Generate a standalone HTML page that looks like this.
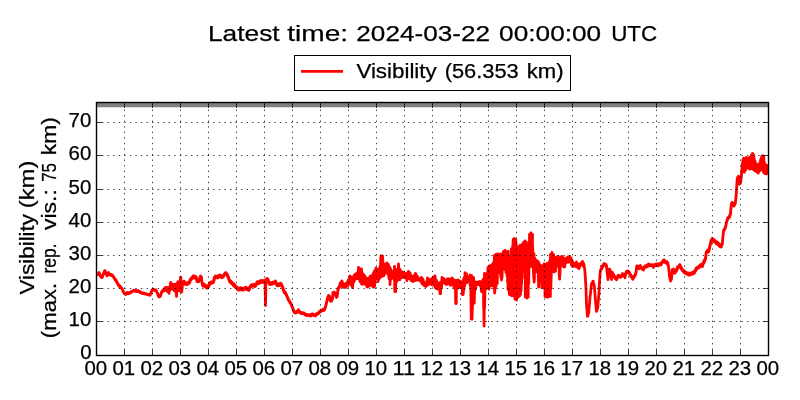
<!DOCTYPE html>
<html lang="en">
<head>
<meta charset="utf-8">
<title>Visibility</title>
<style>
html,body{margin:0;padding:0;background:#fff;}
body{width:800px;height:400px;overflow:hidden;font-family:"Liberation Sans",sans-serif;}
svg{display:block;}
text{font-family:"Liberation Sans",sans-serif;stroke:#000;stroke-width:0.25px;}
</style>
</head>
<body>
<svg width="800" height="400" viewBox="0 0 800 400" style="will-change:transform">
<rect width="800" height="400" fill="#fff"/>
<defs><clipPath id="ax"><rect x="96.5" y="102.5" width="672" height="253"/></clipPath></defs>
<g clip-path="url(#ax)">
<path d="M96.8,274.7 L97.5,274.8 L97.9,273.6 L98.2,273.8 L98.6,272.6 L99.0,272.9 L99.2,272.8 L99.5,274.1 L99.8,274.0 L100.0,275.2 L100.2,275.1 L100.5,276.3 L100.9,276.0 L101.2,277.3 L101.6,276.8 L102.0,277.8 L102.2,276.5 L102.5,276.9 L102.8,275.3 L103.0,275.5 L103.2,274.0 L103.5,274.3 L103.7,272.9 L103.9,273.2 L104.2,272.0 L104.4,272.0 L104.6,270.7 L104.8,271.0 L105.0,270.8 L105.3,272.1 L105.5,271.9 L105.8,273.3 L106.0,273.1 L106.2,274.4 L106.5,274.5 L106.8,275.7 L107.0,275.5 L107.2,275.9 L107.5,274.7 L107.8,274.9 L108.0,273.6 L108.2,273.8 L108.5,272.5 L108.9,273.8 L109.2,273.4 L109.6,274.6 L110.0,274.1 L110.5,275.2 L111.0,274.4 L111.5,275.3 L112.0,274.8 L112.5,276.0 L113.0,275.6 L113.3,277.0 L113.6,276.7 L113.9,277.9 L114.2,277.7 L114.5,279.0 L114.9,278.5 L115.2,279.9 L115.6,279.5 L116.0,280.9 L116.2,280.5 L116.5,281.9 L116.8,281.6 L117.0,282.9 L117.2,282.5 L117.5,284.0 L117.9,283.6 L118.2,285.0 L118.6,284.7 L119.0,286.0 L119.4,285.4 L119.8,286.8 L120.1,286.1 L120.5,287.3 L120.9,287.0 L121.2,288.2 L121.6,287.9 L122.0,288.9 L122.2,288.8 L122.5,290.0 L122.8,290.1 L123.0,291.5 L123.3,291.2 L123.6,292.3 L123.9,292.1 L124.2,293.5 L124.5,293.2 L125.0,294.1 L125.5,293.4 L126.0,294.5 L126.4,293.1 L126.8,293.8 L127.1,292.5 L127.5,292.9 L128.0,292.5 L128.5,293.7 L129.0,292.9 L129.5,293.5 L130.0,292.5 L130.5,292.8 L131.0,291.8 L131.5,292.2 L132.0,291.1 L132.5,291.6 L133.0,290.7 L133.5,291.1 L134.0,290.1 L134.7,291.1 L135.3,290.3 L136.0,291.5 L136.7,290.6 L137.3,291.5 L138.0,290.5 L138.5,291.5 L139.0,291.0 L139.5,292.3 L140.0,291.5 L140.5,292.8 L141.0,292.1 L141.5,293.1 L142.0,292.7 L142.7,293.6 L143.3,293.0 L144.0,293.8 L144.7,293.3 L145.3,294.1 L146.0,293.6 L146.7,294.4 L147.3,294.1 L148.0,294.8 L148.7,294.4 L149.3,295.2 L150.0,294.7 L150.2,295.0 L150.5,293.5 L150.8,293.8 L151.0,292.7 L151.2,292.8 L151.5,291.4 L151.8,291.4 L152.0,290.0 L152.5,290.6 L153.0,289.1 L153.5,290.1 L154.0,289.5 L154.5,290.3 L155.0,289.8 L155.5,290.7 L156.0,290.0 L156.3,291.3 L156.7,291.2 L157.0,292.6 L157.2,292.2 L157.4,293.5 L157.6,293.4 L157.8,294.7 L158.0,294.6 L158.3,296.1 L158.6,295.4 L158.9,297.0 L159.2,296.6 L159.6,296.9 L160.1,295.7 L160.5,296.0 L160.7,294.5 L160.9,294.8 L161.1,293.3 L161.3,293.4 L161.5,292.0 L161.9,292.6 L162.2,290.9 L162.6,291.5 L163.0,290.0 L163.5,291.1 L164.0,289.0 L164.5,290.9 L165.0,287.6 L165.5,290.0 L166.0,287.4 L166.5,290.3 L167.0,287.7 L167.5,291.5 L167.9,287.5 L168.2,291.9 L168.6,288.3 L169.0,293.4 L169.2,288.0 L169.4,291.4 L169.6,287.8 L169.8,290.0 L170.0,286.6 L170.1,288.8 L170.3,284.9 L170.4,288.6 L170.5,283.4 L170.7,286.8 L170.8,282.5 L171.0,287.2 L171.3,284.3 L171.5,288.0 L171.8,284.1 L172.0,289.2 L172.3,284.4 L172.7,287.8 L173.0,284.1 L173.2,288.3 L173.3,285.1 L173.5,289.5 L173.7,285.4 L173.8,290.1 L174.0,287.3 L174.2,290.8 L174.4,285.7 L174.6,288.6 L174.8,285.3 L175.0,287.3 L175.1,284.2 L175.3,289.4 L175.4,286.4 L175.6,290.6 L175.7,286.4 L175.9,291.5 L176.0,288.4 L176.1,292.5 L176.1,289.8 L176.2,292.9 L176.3,289.8 L176.4,294.9 L176.4,291.6 L176.5,296.4 L176.5,291.6 L176.6,295.1 L176.6,289.9 L176.7,293.0 L176.7,289.4 L176.7,291.9 L176.8,288.2 L176.8,291.0 L176.8,287.0 L176.9,289.6 L176.9,285.9 L177.0,289.0 L177.0,284.4 L177.2,287.2 L177.4,282.8 L177.6,286.6 L177.8,281.9 L178.0,285.4 L178.1,281.7 L178.2,286.1 L178.3,282.9 L178.4,286.5 L178.5,284.2 L178.5,288.0 L178.6,286.0 L178.7,290.0 L178.8,286.9 L178.9,290.7 L179.0,287.3 L179.2,290.9 L179.3,286.7 L179.5,289.6 L179.7,285.2 L179.8,288.9 L180.0,284.7 L180.1,287.4 L180.1,283.3 L180.2,285.8 L180.2,281.4 L180.3,285.0 L180.3,280.6 L180.4,284.2 L180.4,278.9 L180.5,282.6 L180.5,278.2 L180.6,281.5 L180.6,277.2 L180.7,280.7 L180.7,277.3 L180.8,281.6 L180.8,278.4 L180.8,283.3 L180.8,279.3 L180.9,284.4 L180.9,280.1 L180.9,284.7 L180.9,281.8 L181.0,286.8 L181.0,282.6 L181.0,286.9 L181.1,284.7 L181.1,288.5 L181.1,286.0 L181.1,289.3 L181.2,287.1 L181.2,291.1 L181.5,287.2 L181.8,292.2 L181.9,288.2 L181.9,290.7 L182.0,286.5 L182.0,288.8 L182.1,285.2 L182.2,288.5 L182.2,284.8 L182.3,287.2 L182.3,283.5 L182.4,285.4 L182.4,281.9 L182.5,284.5 L183.0,282.0 L183.5,283.2 L184.0,281.1 L184.3,283.3 L184.7,282.3 L185.0,284.3 L185.5,282.7 L186.0,284.4 L186.5,283.1 L187.0,284.7 L187.5,283.1 L188.0,284.3 L188.4,282.2 L188.8,283.6 L189.1,281.8 L189.5,283.2 L189.8,280.3 L190.0,281.9 L190.2,279.5 L190.5,280.2 L190.9,278.6 L191.2,279.8 L191.6,277.7 L192.0,278.6 L192.4,276.8 L192.8,278.4 L193.1,275.8 L193.5,277.2 L194.0,276.0 L194.5,278.0 L195.0,276.1 L195.6,278.3 L196.2,276.9 L196.4,278.7 L196.5,277.7 L196.7,280.1 L196.8,279.3 L197.0,281.7 L197.5,279.7 L198.0,281.9 L198.5,280.4 L198.8,281.6 L199.2,279.4 L199.5,280.6 L199.7,278.1 L199.9,279.1 L200.1,276.8 L200.3,278.3 L200.5,275.8 L200.8,277.6 L201.2,276.6 L201.5,278.7 L201.6,278.0 L201.6,279.9 L201.7,279.3 L201.8,281.2 L201.8,280.4 L201.9,282.5 L201.9,281.3 L202.0,283.7 L202.2,282.7 L202.4,284.9 L202.6,284.0 L202.8,286.0 L203.0,285.3 L203.5,286.1 L204.0,284.0 L204.5,286.2 L205.0,284.8 L205.3,286.9 L205.7,285.3 L206.0,287.6 L206.5,286.1 L207.0,288.2 L207.5,286.6 L207.8,288.1 L208.2,285.7 L208.5,286.9 L208.8,284.5 L209.0,286.2 L209.2,283.7 L209.5,285.1 L209.9,282.6 L210.2,284.2 L210.6,282.1 L211.0,283.3 L211.8,281.9 L212.5,283.1 L213.0,281.4 L213.5,282.5 L213.7,280.2 L213.8,281.0 L214.0,279.2 L214.2,280.3 L214.3,277.5 L214.5,279.0 L214.8,276.8 L215.2,277.7 L215.5,275.8 L216.0,277.5 L216.5,276.2 L217.0,277.8 L217.5,276.1 L218.0,277.8 L218.5,275.3 L219.0,277.1 L219.5,275.1 L220.0,276.7 L220.4,275.1 L220.8,277.0 L221.1,276.1 L221.5,277.8 L222.0,276.0 L222.5,277.5 L223.0,275.8 L223.3,276.9 L223.7,275.0 L224.0,275.7 L224.4,273.9 L224.8,274.8 L225.1,272.9 L225.5,273.6 L225.9,272.6 L226.2,274.4 L226.6,273.2 L227.0,275.4 L227.2,274.0 L227.5,276.5 L227.8,275.0 L228.0,277.6 L228.2,276.3 L228.4,278.5 L228.6,277.1 L228.8,279.5 L229.0,278.5 L229.2,281.0 L229.5,279.9 L229.8,282.1 L230.0,280.4 L230.5,282.8 L231.0,281.1 L231.5,283.6 L231.9,282.2 L232.2,284.1 L232.6,282.8 L233.0,285.1 L233.4,283.3 L233.8,285.8 L234.1,284.2 L234.5,286.6 L234.9,284.9 L235.2,287.2 L235.6,285.9 L236.0,287.6 L236.4,286.7 L236.8,288.5 L237.1,287.5 L237.5,289.6 L238.0,287.9 L238.5,290.1 L239.0,288.5 L239.5,290.2 L240.0,288.0 L240.5,289.0 L241.0,287.6 L241.5,289.9 L242.0,288.1 L242.5,290.1 L243.0,288.4 L243.5,290.1 L243.9,288.1 L244.2,289.5 L244.6,287.8 L245.0,288.7 L245.5,287.1 L246.0,289.0 L246.5,287.5 L247.0,289.9 L247.5,288.1 L248.0,290.0 L248.5,288.5 L249.0,290.5 L249.2,288.0 L249.5,289.4 L249.8,287.0 L250.0,288.1 L250.2,286.4 L250.5,287.2 L251.0,285.1 L251.5,286.6 L252.0,284.6 L252.5,285.9 L253.0,284.6 L253.5,285.7 L254.0,284.3 L254.5,286.7 L255.0,285.0 L255.5,286.2 L256.0,284.1 L256.2,285.3 L256.5,283.2 L256.8,284.1 L257.0,281.9 L257.5,283.5 L258.0,281.5 L258.5,283.7 L259.0,281.8 L259.5,283.0 L260.0,280.9 L260.5,282.8 L261.0,280.5 L261.5,281.7 L262.0,280.5 L262.5,282.5 L263.0,280.8 L263.5,282.3 L264.0,280.5 L264.5,281.9 L264.7,280.5 L264.9,283.0 L265.1,281.9 L265.1,284.5 L265.1,283.1 L265.1,285.8 L265.1,284.7 L265.2,287.1 L265.2,285.7 L265.2,287.7 L265.2,287.2 L265.2,289.2 L265.2,288.1 L265.2,290.3 L265.2,289.5 L265.2,291.5 L265.2,290.5 L265.3,293.0 L265.3,291.9 L265.3,294.1 L265.3,292.6 L265.3,294.9 L265.3,293.7 L265.3,296.4 L265.3,294.9 L265.3,297.3 L265.4,296.4 L265.4,298.6 L265.4,297.2 L265.4,299.9 L265.4,298.8 L265.4,301.0 L265.4,300.0 L265.4,301.9 L265.4,301.3 L265.4,303.6 L265.5,302.4 L265.5,304.9 L265.5,303.6 L265.5,305.6 L265.5,304.6 L265.5,305.6 L265.5,303.5 L265.5,304.9 L265.5,302.0 L265.6,303.6 L265.6,301.0 L265.6,302.5 L265.6,299.6 L265.6,301.1 L265.6,298.6 L265.6,299.6 L265.6,297.4 L265.6,298.6 L265.6,296.2 L265.7,297.6 L265.7,295.3 L265.7,296.0 L265.7,293.7 L265.7,294.9 L265.7,292.8 L265.7,293.8 L265.7,291.7 L265.7,292.9 L265.8,290.1 L265.8,291.4 L265.8,289.1 L265.8,290.3 L265.8,288.0 L265.8,289.1 L265.8,287.1 L265.8,287.8 L265.8,285.9 L265.8,287.1 L265.9,284.5 L265.9,285.5 L265.9,283.0 L265.9,284.8 L265.9,282.2 L266.0,283.1 L266.1,281.2 L266.2,281.9 L266.2,279.9 L266.3,280.7 L266.4,278.9 L266.5,279.7 L267.0,278.4 L267.5,280.8 L268.0,279.0 L268.2,281.4 L268.5,280.4 L268.8,282.8 L269.0,281.7 L269.3,283.8 L269.7,282.9 L270.0,284.7 L270.5,282.7 L271.0,284.3 L271.5,282.6 L272.0,284.3 L272.5,282.1 L273.0,283.7 L273.5,282.1 L274.0,283.4 L274.5,281.7 L275.0,283.1 L275.5,280.8 L275.8,283.7 L276.0,282.1 L276.2,284.4 L276.5,283.9 L277.0,285.7 L277.5,283.7 L278.0,285.9 L278.5,283.9 L279.0,285.2 L279.5,283.7 L280.0,285.5 L280.5,283.1 L281.0,285.1 L281.2,283.3 L281.5,285.7 L281.8,284.9 L282.0,286.6 L282.2,285.7 L282.5,288.2 L282.8,286.7 L283.0,289.5 L283.2,288.1 L283.4,290.7 L283.6,289.5 L283.8,291.8 L284.0,290.9 L284.4,292.9 L284.8,291.6 L285.1,293.6 L285.5,292.3 L285.8,294.0 L286.0,293.6 L286.2,295.0 L286.5,294.4 L286.8,296.3 L287.0,295.8 L287.2,297.3 L287.5,296.9 L287.8,298.7 L288.0,298.2 L288.2,299.8 L288.5,299.4 L288.8,300.9 L289.2,300.5 L289.5,302.1 L289.8,301.2 L290.2,303.1 L290.5,302.3 L290.8,304.1 L291.0,303.5 L291.2,305.0 L291.5,304.2 L291.8,306.3 L292.0,305.8 L292.2,307.2 L292.5,306.9 L292.7,308.7 L292.9,308.2 L293.1,309.8 L293.3,309.3 L293.5,311.2 L293.8,310.6 L294.0,311.9 L294.2,311.5 L294.5,313.0 L295.2,311.9 L296.0,312.9 L296.5,311.5 L297.0,312.5 L297.5,310.9 L298.0,311.4 L298.5,309.7 L298.8,311.5 L299.2,310.8 L299.5,312.4 L300.0,311.9 L300.5,313.3 L301.0,312.5 L301.8,313.7 L302.5,312.5 L303.0,313.6 L303.5,312.9 L304.0,314.0 L304.5,313.2 L305.0,314.9 L305.5,314.1 L306.0,315.2 L306.5,314.4 L307.0,315.7 L307.8,314.6 L308.5,315.4 L309.0,314.8 L309.5,315.8 L310.0,314.8 L310.5,316.0 L311.0,314.5 L311.5,315.7 L312.0,313.8 L312.5,314.5 L313.0,313.9 L313.5,315.4 L314.0,314.4 L314.5,315.5 L315.0,314.7 L315.5,316.0 L315.8,314.5 L316.2,315.0 L316.5,313.6 L317.0,314.2 L317.5,313.2 L318.0,314.0 L318.5,312.5 L319.0,313.2 L319.5,311.8 L319.8,312.4 L320.0,311.0 L320.5,311.8 L321.0,310.2 L321.5,311.0 L322.0,310.0 L322.5,310.7 L323.0,309.5 L323.5,310.5 L324.0,309.3 L324.5,310.0 L324.8,308.2 L325.0,308.6 L325.2,307.2 L325.5,307.6 L325.6,305.8 L325.8,306.2 L325.9,305.0 L326.1,305.1 L326.2,303.4 L326.4,304.0 L326.5,302.3 L326.6,303.2 L326.8,301.4 L326.9,301.8 L327.0,299.9 L327.1,300.9 L327.2,299.1 L327.4,299.8 L327.5,297.9 L327.8,298.6 L328.0,297.0 L328.2,297.9 L328.5,295.5 L329.0,297.5 L329.5,296.0 L329.7,298.0 L329.8,297.6 L330.0,299.5 L330.2,298.4 L330.3,300.9 L330.5,299.8 L331.0,301.3 L331.5,300.3 L331.7,301.1 L331.9,298.8 L332.1,299.8 L332.3,297.7 L332.5,298.9 L332.6,296.5 L332.6,297.6 L332.7,295.3 L332.8,296.1 L332.8,294.2 L332.9,294.9 L332.9,292.7 L333.0,293.5 L333.5,292.2 L334.0,293.4 L334.5,292.2 L335.0,293.5 L335.2,293.1 L335.4,295.0 L335.6,294.2 L335.8,296.4 L336.0,295.1 L336.5,297.5 L337.0,296.4 L337.1,296.9 L337.2,295.3 L337.3,295.9 L337.4,293.8 L337.5,294.7 L337.6,292.8 L337.6,293.4 L337.7,291.3 L337.8,292.3 L337.8,290.0 L337.9,291.2 L337.9,288.8 L338.0,289.5 L338.3,287.6 L338.7,288.6 L339.0,286.7 L339.3,287.7 L339.7,285.6 L340.0,286.6 L340.0,283.4 L340.6,284.7 L341.1,282.1 L341.7,285.4 L342.0,280.9 L342.0,286.6 L342.2,281.8 L342.8,286.7 L343.3,283.4 L343.9,287.0 L344.0,284.4 L344.0,287.6 L344.4,284.5 L345.0,287.3 L345.5,284.1 L346.0,283.4 L346.0,287.1 L346.1,286.7 L346.6,283.2 L347.2,286.2 L347.7,281.2 L348.0,280.4 L348.0,285.6 L348.3,284.6 L348.8,279.5 L349.4,283.1 L349.9,276.1 L350.0,275.9 L350.0,283.6 L350.5,283.9 L351.0,276.8 L351.6,285.8 L352.0,277.4 L352.1,279.0 L352.5,287.6 L352.7,286.0 L353.2,277.6 L353.8,282.2 L354.0,275.4 L354.0,281.6 L354.3,276.0 L354.9,279.9 L355.4,274.2 L355.5,273.9 L356.0,278.1 L356.0,278.6 L356.5,274.9 L357.0,274.4 L357.1,278.6 L357.6,272.3 L358.2,277.6 L358.5,267.4 L358.5,278.6 L358.7,268.0 L359.3,279.4 L359.8,269.0 L360.0,268.9 L360.0,281.6 L360.4,281.7 L360.9,269.5 L361.5,282.4 L361.5,268.9 L361.5,284.1 L362.0,272.1 L362.6,283.7 L363.0,273.9 L363.1,274.0 L363.5,284.1 L363.7,283.5 L364.2,276.1 L364.5,275.4 L364.8,283.5 L365.0,283.6 L365.3,277.1 L365.9,284.9 L366.0,277.9 L366.4,279.1 L367.0,286.2 L367.0,287.1 L367.5,278.3 L368.0,278.4 L368.1,286.5 L368.6,278.4 L369.0,286.1 L369.2,285.2 L369.7,277.7 L370.0,276.4 L370.0,285.6 L370.3,285.0 L370.8,276.2 L371.0,283.6 L371.4,283.2 L371.9,276.1 L372.0,275.4 L372.5,285.6 L373.0,287.1 L373.0,274.4 L373.5,272.9 L373.6,284.5 L374.1,272.5 L374.5,270.9 L374.5,286.6 L374.7,284.3 L375.2,270.3 L375.8,279.1 L376.0,267.9 L376.0,278.6 L376.3,269.9 L376.9,277.9 L377.4,270.0 L377.5,269.4 L378.0,281.2 L378.0,281.6 L378.5,272.0 L379.0,271.4 L379.1,279.2 L379.6,268.4 L380.0,266.4 L380.0,277.6 L380.2,275.5 L380.7,260.4 L381.0,255.8 L381.3,273.9 L381.8,257.4 L382.0,276.6 L382.4,273.2 L382.5,255.8 L382.9,261.4 L383.5,275.6 L383.5,266.4 L384.0,275.6 L384.0,265.7 L384.6,273.8 L385.0,264.4 L385.1,265.4 L385.7,271.6 L386.0,272.6 L386.2,263.6 L386.8,272.2 L387.0,262.9 L387.3,263.9 L387.9,273.5 L388.0,274.6 L388.4,264.6 L388.5,264.4 L389.0,278.7 L389.5,267.8 L390.0,267.4 L390.0,284.6 L390.1,281.6 L390.6,269.2 L391.2,279.2 L391.5,271.4 L391.5,278.6 L391.7,272.4 L392.3,276.6 L392.8,271.5 L393.0,271.4 L393.0,276.6 L393.4,277.3 L393.9,270.1 L394.3,279.6 L394.5,280.3 L394.5,266.4 L394.8,291.6 L395.0,270.1 L395.6,291.4 L395.6,291.6 L396.0,271.4 L396.1,273.5 L396.3,282.6 L396.7,281.2 L397.0,269.4 L397.2,270.7 L397.5,280.6 L397.8,279.0 L398.3,266.9 L398.5,263.9 L398.9,279.7 L399.4,269.0 L400.0,279.3 L400.0,269.4 L400.0,279.6 L400.5,270.7 L401.1,277.4 L401.5,271.4 L401.6,272.4 L402.0,277.6 L402.2,277.5 L402.7,272.2 L403.3,277.3 L403.5,272.4 L403.8,273.0 L404.4,277.3 L404.9,273.3 L405.0,277.6 L405.5,278.1 L406.0,273.9 L406.0,274.5 L406.6,278.9 L407.0,280.6 L407.1,272.8 L407.7,278.9 L408.2,272.6 L408.5,271.4 L408.8,278.0 L409.0,277.6 L409.3,273.0 L409.9,278.8 L410.0,272.9 L410.4,274.2 L411.0,280.0 L411.0,280.6 L411.5,276.1 L412.0,276.4 L412.1,280.9 L412.6,276.5 L413.0,281.6 L413.2,281.0 L413.7,275.9 L414.0,275.4 L414.3,280.3 L414.8,274.8 L415.0,280.6 L415.4,280.0 L415.5,273.4 L415.9,274.0 L416.5,279.7 L417.0,280.1 L417.0,276.0 L417.5,276.4 L417.6,280.1 L418.1,277.5 L418.7,280.0 L419.2,278.6 L419.8,280.6 L420.0,279.5 L420.6,281.4 L421.1,278.0 L421.5,277.4 L421.7,282.7 L422.0,283.6 L422.2,278.4 L422.8,284.0 L423.0,279.4 L423.3,280.5 L423.9,285.5 L424.0,285.6 L424.4,283.0 L424.5,282.9 L425.0,286.1 L425.5,283.6 L426.0,283.4 L426.0,286.6 L426.1,286.1 L426.6,281.6 L427.2,285.4 L427.5,277.9 L427.7,278.6 L428.0,284.6 L428.3,284.2 L428.8,279.8 L429.4,284.2 L429.5,279.4 L429.9,280.0 L430.0,284.1 L430.5,283.3 L431.0,279.7 L431.5,278.9 L431.6,283.7 L432.0,284.6 L432.1,278.5 L432.7,283.7 L433.2,277.9 L433.5,276.9 L433.8,284.0 L434.0,285.6 L434.3,277.9 L434.9,286.7 L435.0,275.9 L435.4,278.6 L435.5,288.1 L436.0,286.8 L436.5,280.4 L436.5,280.4 L437.1,288.4 L437.5,289.1 L437.6,282.7 L438.2,289.0 L438.5,282.9 L438.7,283.8 L439.3,288.8 L439.5,289.1 L439.8,283.9 L440.0,293.6 L440.4,293.4 L440.5,282.4 L440.6,293.6 L440.9,282.0 L441.5,286.5 L441.5,287.6 L442.0,277.4 L442.0,277.7 L442.6,283.2 L443.0,281.6 L443.1,278.4 L443.5,278.4 L443.7,282.1 L444.2,278.9 L444.8,283.3 L445.0,283.6 L445.3,279.8 L445.5,279.9 L445.9,283.5 L446.4,280.0 L446.5,284.6 L447.0,283.6 L447.5,278.9 L447.5,279.0 L448.1,283.2 L448.5,283.6 L448.6,279.0 L449.2,283.8 L449.5,278.9 L449.7,279.5 L450.0,285.1 L450.3,284.7 L450.8,279.4 L451.4,284.4 L451.9,278.6 L452.0,277.9 L452.0,285.1 L452.5,284.5 L453.0,279.0 L453.6,285.7 L454.0,279.9 L454.0,287.6 L454.1,280.8 L454.7,288.3 L455.2,281.6 L455.5,290.6 L455.7,303.6 L455.8,302.5 L456.0,280.4 L456.3,303.6 L456.3,284.4 L456.8,289.6 L456.9,288.6 L457.4,280.6 L458.0,287.1 L458.0,279.9 L458.5,287.6 L458.5,280.7 L459.1,287.1 L459.6,281.5 L460.0,280.9 L460.0,286.6 L460.2,286.8 L460.7,282.1 L461.3,288.0 L461.5,288.6 L461.8,282.8 L462.0,281.9 L462.4,292.0 L462.4,294.6 L462.9,281.9 L463.1,294.6 L463.5,291.1 L463.5,279.4 L464.0,289.6 L464.0,277.9 L464.6,286.3 L465.0,272.9 L465.0,283.6 L465.1,273.0 L465.7,283.1 L466.2,274.7 L466.5,273.9 L466.8,282.1 L467.0,282.6 L467.3,276.8 L467.9,281.5 L468.0,278.4 L468.4,277.8 L469.0,281.5 L469.0,281.6 L469.5,276.6 L470.0,274.9 L470.1,285.1 L470.5,286.6 L470.6,275.1 L471.2,314.2 L471.2,319.1 L471.5,275.4 L471.7,276.4 L472.0,319.1 L472.3,309.9 L472.6,302.6 L472.8,277.7 L473.3,303.6 L473.4,300.8 L473.5,277.4 L473.9,281.2 L474.2,303.1 L474.5,294.2 L474.6,289.6 L475.0,281.9 L475.0,282.7 L475.5,289.6 L475.6,288.8 L476.1,282.2 L476.5,284.6 L476.7,284.2 L477.0,282.4 L477.2,282.4 L477.8,284.6 L478.3,282.0 L478.5,284.6 L478.9,284.1 L479.4,281.9 L480.0,283.4 L480.0,281.5 L480.6,286.4 L481.0,283.4 L481.1,283.2 L481.5,291.6 L481.7,290.4 L482.2,282.0 L482.8,290.1 L483.0,279.4 L483.0,290.6 L483.3,280.5 L483.7,308.6 L483.9,312.1 L484.1,326.1 L484.4,280.4 L484.5,273.4 L484.5,308.6 L485.0,289.9 L485.0,290.6 L485.5,274.4 L486.0,273.9 L486.1,286.8 L486.5,288.6 L486.6,277.2 L487.0,279.4 L487.2,287.7 L487.7,272.3 L488.0,267.4 L488.3,288.1 L488.8,266.8 L489.0,289.1 L489.4,285.1 L489.9,265.5 L490.0,265.4 L490.3,285.6 L490.5,280.9 L490.8,275.6 L491.0,267.3 L491.3,285.6 L491.6,285.1 L492.1,264.9 L492.5,263.9 L492.5,285.6 L492.7,283.5 L493.2,264.9 L493.8,285.1 L494.0,261.4 L494.0,288.6 L494.3,262.6 L494.5,255.3 L494.6,293.1 L494.9,290.1 L495.2,288.6 L495.4,256.6 L496.0,285.0 L496.0,254.3 L496.0,286.6 L496.5,254.5 L497.1,279.4 L497.3,283.6 L497.5,253.8 L497.6,257.2 L497.8,273.6 L498.2,270.3 L498.5,271.6 L498.7,254.2 L499.3,269.0 L499.5,254.3 L499.8,256.6 L500.4,270.2 L500.4,271.6 L500.9,277.6 L500.9,257.1 L501.0,253.8 L501.5,277.8 L501.5,280.1 L502.0,255.2 L502.1,277.6 L502.5,254.3 L502.6,270.1 L502.6,269.6 L503.0,268.6 L503.1,253.2 L503.5,251.3 L503.7,268.5 L504.1,268.6 L504.2,251.8 L504.5,257.6 L504.8,263.2 L504.9,269.6 L505.0,250.3 L505.3,253.2 L505.9,269.0 L506.0,272.6 L506.4,254.6 L506.5,251.8 L507.0,274.4 L507.0,275.6 L507.5,254.5 L507.6,282.6 L508.0,251.3 L508.0,289.6 L508.1,286.8 L508.6,260.2 L509.0,257.4 L509.2,290.1 L509.5,294.6 L509.7,259.4 L510.3,290.7 L510.5,257.9 L510.8,261.2 L511.2,248.8 L511.4,293.7 L511.5,295.6 L511.9,255.8 L512.5,295.5 L512.5,247.8 L513.0,244.3 L513.2,239.3 L513.5,295.6 L513.6,293.4 L514.1,246.5 L514.5,238.3 L514.7,288.2 L515.0,299.1 L515.2,247.2 L515.8,296.1 L515.8,239.8 L516.2,247.3 L516.3,255.7 L516.5,300.1 L516.9,296.5 L517.4,249.2 L518.0,289.4 L518.0,246.8 L518.0,297.6 L518.5,252.2 L519.1,290.3 L519.5,296.1 L519.6,251.7 L520.0,245.3 L520.1,286.4 L520.5,294.6 L520.7,249.1 L521.2,290.6 L521.2,283.0 L521.6,283.6 L521.8,248.6 L522.0,244.3 L522.0,270.6 L522.3,264.3 L522.5,266.6 L522.9,247.8 L523.0,246.3 L523.4,263.5 L523.5,242.3 L524.0,244.4 L524.3,266.6 L524.5,270.9 L524.8,278.6 L525.0,240.8 L525.1,242.8 L525.3,297.1 L525.6,291.1 L526.2,242.8 L526.5,242.3 L526.7,289.1 L527.0,298.1 L527.2,246.8 L527.3,248.0 L527.8,297.2 L528.2,297.1 L528.4,245.9 L528.5,244.8 L528.7,283.6 L528.9,268.6 L529.1,268.6 L529.5,236.4 L529.5,234.3 L530.0,266.6 L530.0,265.8 L530.6,233.4 L531.0,232.8 L531.1,266.4 L531.7,237.7 L532.1,266.6 L532.2,260.3 L532.5,234.3 L532.5,258.6 L532.8,247.6 L532.9,266.6 L533.0,252.3 L533.3,268.6 L533.3,267.4 L533.8,278.6 L533.9,254.0 L534.0,253.8 L534.1,282.1 L534.4,278.6 L534.4,275.8 L535.0,259.3 L535.0,258.4 L535.0,272.6 L535.5,270.7 L536.1,261.7 L536.5,260.4 L536.6,270.7 L537.2,261.0 L537.7,270.9 L537.8,272.6 L538.3,264.8 L538.3,280.6 L538.5,261.9 L538.6,287.1 L538.8,278.5 L538.9,280.6 L539.4,263.9 L539.5,274.6 L539.9,274.3 L540.0,264.9 L540.5,265.2 L540.8,274.6 L541.0,277.9 L541.4,282.6 L541.6,268.6 L541.7,287.6 L542.0,282.6 L542.1,278.7 L542.5,265.9 L542.6,275.6 L542.7,266.7 L543.2,274.0 L543.8,265.4 L543.8,275.6 L544.0,263.9 L544.3,288.6 L544.3,287.9 L544.9,264.7 L545.0,296.6 L545.4,296.2 L545.5,264.4 L546.0,268.5 L546.5,297.1 L546.5,295.9 L547.0,263.4 L547.1,265.4 L547.6,294.6 L548.0,297.1 L548.2,264.7 L548.5,264.9 L548.7,295.5 L549.3,263.8 L549.5,261.4 L549.8,291.9 L550.4,257.8 L550.4,296.6 L550.5,254.3 L550.9,288.6 L550.9,284.9 L551.3,273.6 L551.5,256.5 L552.0,252.3 L552.0,271.6 L552.0,269.9 L552.6,256.0 L553.1,269.9 L553.5,254.3 L553.7,255.2 L554.0,272.1 L554.2,270.9 L554.5,258.4 L554.8,259.2 L555.3,269.4 L555.5,271.1 L555.9,258.0 L556.0,257.4 L556.0,266.6 L556.4,264.8 L557.0,257.5 L557.0,265.1 L557.5,256.4 L557.5,265.0 L558.1,258.4 L558.5,265.6 L558.6,267.2 L559.0,258.4 L559.2,260.4 L559.2,273.6 L559.6,279.1 L559.7,276.5 L560.0,273.6 L560.3,257.1 L560.5,256.9 L560.6,266.6 L560.8,266.2 L561.4,257.9 L561.9,264.4 L562.0,256.4 L562.0,266.1 L562.5,256.9 L563.0,265.4 L563.5,257.9 L563.6,258.6 L563.8,266.1 L564.1,265.8 L564.2,267.1 L564.6,267.1 L564.7,258.9 L565.0,258.9 L565.0,265.1 L565.2,264.1 L565.8,258.6 L566.0,263.1 L566.3,262.2 L566.5,257.9 L566.9,257.8 L567.4,261.3 L567.5,262.1 L568.0,257.1 L568.0,256.9 L568.5,261.9 L569.0,262.1 L569.1,257.2 L569.5,256.4 L569.6,261.2 L570.2,257.1 L570.5,261.1 L570.7,261.6 L571.0,257.9 L571.3,258.7 L571.5,265.1 L571.8,264.9 L572.0,260.4 L572.4,261.8 L572.5,266.6 L572.9,265.6 L573.0,262.4 L573.5,262.9 L574.0,265.1 L574.0,265.1 L574.6,263.4 L575.0,263.4 L575.0,266.6 L575.1,266.3 L575.7,263.2 L576.2,265.3 L576.5,261.9 L576.5,265.1 L576.8,262.8 L577.3,266.8 L577.9,263.9 L578.0,263.9 L578.0,268.1 L578.4,268.2 L579.0,264.9 L579.0,268.6 L579.5,264.4 L579.5,267.0 L580.0,266.1 L580.1,263.9 L580.6,265.0 L581.0,262.9 L581.2,262.7 L581.5,264.1 L581.7,264.2 L582.3,261.9 L582.5,261.4 L582.8,265.0 L583.0,265.6 L583.4,262.8 L583.9,267.0 L584.0,264.5 L584.1,266.1 L584.2,265.9 L584.3,267.4 L584.4,267.1 L584.5,268.5 L584.6,268.5 L584.7,269.6 L584.8,269.8 L584.8,270.8 L584.9,271.1 L584.9,271.9 L585.0,272.2 L585.0,273.1 L585.1,273.5 L585.1,274.3 L585.2,274.7 L585.2,275.5 L585.2,275.9 L585.3,276.7 L585.3,277.1 L585.4,277.9 L585.4,278.3 L585.4,279.0 L585.5,279.5 L585.5,280.2 L585.5,280.6 L585.6,281.4 L585.6,281.8 L585.6,282.6 L585.7,283.0 L585.7,283.8 L585.7,284.1 L585.8,285.0 L585.8,285.3 L585.8,286.1 L585.9,286.6 L585.9,287.3 L585.9,287.7 L586.0,288.5 L586.0,288.9 L586.0,289.7 L586.0,290.1 L586.1,290.9 L586.1,291.2 L586.1,292.1 L586.1,292.4 L586.1,293.3 L586.1,293.7 L586.2,294.5 L586.2,294.8 L586.2,295.6 L586.2,296.0 L586.2,296.8 L586.3,297.2 L586.3,298.0 L586.3,298.4 L586.3,299.2 L586.3,299.5 L586.4,300.4 L586.4,300.7 L586.4,301.6 L586.4,301.9 L586.4,302.8 L586.4,303.1 L586.5,303.9 L586.5,304.3 L586.5,305.1 L586.6,305.5 L586.6,306.3 L586.7,306.7 L586.7,307.5 L586.8,307.9 L586.8,308.7 L586.9,309.1 L586.9,309.9 L587.0,310.3 L587.0,311.2 L587.1,311.5 L587.1,312.4 L587.2,312.8 L587.2,313.6 L587.3,313.9 L587.3,314.8 L587.4,315.2 L587.4,316.0 L587.5,316.4 L587.7,316.0 L587.9,315.3 L588.0,314.9 L588.2,314.1 L588.4,313.8 L588.6,313.0 L588.8,312.6 L588.8,311.8 L588.9,311.4 L588.9,310.6 L589.0,310.2 L589.0,309.4 L589.0,309.0 L589.1,308.2 L589.1,307.8 L589.2,307.0 L589.2,306.6 L589.3,305.8 L589.4,305.4 L589.4,304.6 L589.5,304.2 L589.5,303.4 L589.5,303.0 L589.6,302.2 L589.6,301.8 L589.7,301.0 L589.8,300.6 L589.8,299.8 L589.9,299.4 L589.9,298.6 L590.0,298.2 L590.0,297.4 L590.1,297.0 L590.1,296.2 L590.2,295.9 L590.3,295.1 L590.3,294.7 L590.4,293.9 L590.5,293.5 L590.5,292.7 L590.6,292.3 L590.7,291.5 L590.7,291.2 L590.8,290.4 L590.8,290.0 L590.9,289.2 L591.0,288.8 L591.0,288.0 L591.1,287.6 L591.2,286.8 L591.2,286.5 L591.3,285.7 L591.4,285.3 L591.4,284.5 L591.5,284.1 L591.8,283.4 L592.0,283.1 L592.3,282.4 L592.6,282.1 L592.8,281.4 L593.1,281.1 L593.2,281.5 L593.4,282.2 L593.5,282.6 L593.7,283.3 L593.8,283.7 L594.0,284.4 L594.1,284.8 L594.3,285.6 L594.4,285.9 L594.4,286.7 L594.5,287.1 L594.5,287.9 L594.6,288.3 L594.6,289.2 L594.7,289.6 L594.7,290.4 L594.7,290.7 L594.8,291.6 L594.8,292.0 L594.9,292.8 L594.9,293.2 L595.0,294.0 L595.0,294.5 L595.1,295.3 L595.1,295.6 L595.1,296.4 L595.2,296.9 L595.2,297.6 L595.3,298.1 L595.3,298.9 L595.4,299.3 L595.4,300.1 L595.5,300.5 L595.5,301.3 L595.6,301.7 L595.6,302.6 L595.7,302.9 L595.7,303.8 L595.8,304.1 L595.9,305.0 L595.9,305.3 L596.0,306.2 L596.0,306.6 L596.1,307.4 L596.2,307.8 L596.2,308.6 L596.3,309.0 L596.3,309.8 L596.4,310.2 L596.4,311.0 L596.5,311.4 L596.7,311.0 L596.9,310.2 L597.0,309.9 L597.2,309.1 L597.4,308.7 L597.6,308.0 L597.8,307.6 L597.8,306.8 L597.9,306.4 L597.9,305.6 L598.0,305.2 L598.0,304.4 L598.0,304.0 L598.1,303.2 L598.1,302.8 L598.2,302.0 L598.2,301.6 L598.3,300.8 L598.4,300.4 L598.4,299.6 L598.5,299.2 L598.5,298.4 L598.5,298.0 L598.6,297.2 L598.6,296.8 L598.7,296.0 L598.8,295.6 L598.8,294.8 L598.9,294.4 L598.9,293.6 L599.0,293.2 L599.0,292.4 L599.0,292.0 L599.1,291.2 L599.1,290.9 L599.1,290.0 L599.1,289.6 L599.2,288.8 L599.2,288.5 L599.2,287.7 L599.3,287.2 L599.3,286.4 L599.3,286.1 L599.3,285.2 L599.4,284.9 L599.4,284.0 L599.4,283.7 L599.5,282.9 L599.5,282.5 L599.5,281.7 L599.5,281.3 L599.6,280.5 L599.6,280.1 L599.6,279.3 L599.7,278.9 L599.7,278.1 L599.8,277.7 L599.8,276.9 L599.9,276.5 L599.9,275.7 L600.0,275.3 L600.0,274.5 L600.1,274.1 L600.1,273.3 L600.2,272.9 L600.2,272.1 L600.3,271.7 L600.3,270.7 L600.5,270.8 L600.8,269.6 L601.0,270.0 L601.2,268.4 L601.5,269.1 L601.8,267.3 L602.0,268.3 L602.3,266.2 L602.6,267.3 L602.9,265.2 L603.2,266.1 L603.5,264.2 L604.0,265.4 L604.5,263.5 L605.0,264.5 L605.4,264.0 L605.8,265.5 L606.1,264.6 L606.5,267.0 L606.6,265.8 L606.6,267.8 L606.7,266.8 L606.7,269.2 L606.8,268.2 L606.9,270.1 L606.9,269.5 L607.0,271.3 L607.0,270.6 L607.1,272.5 L607.1,271.6 L607.2,274.0 L607.3,273.1 L607.4,275.0 L607.4,274.3 L607.5,275.9 L607.6,275.1 L607.7,277.4 L607.8,276.2 L607.8,278.5 L607.9,277.9 L608.0,279.7 L608.1,277.6 L608.2,278.7 L608.3,276.1 L608.4,277.2 L608.5,275.2 L608.6,275.8 L608.7,273.8 L608.8,274.6 L608.9,272.8 L609.0,273.2 L609.1,271.7 L609.1,272.3 L609.2,270.4 L609.3,271.2 L609.4,269.1 L609.5,269.9 L609.7,269.1 L609.9,270.7 L610.1,270.0 L610.3,272.0 L610.5,271.1 L610.6,273.1 L610.7,272.7 L610.8,274.6 L610.9,273.5 L611.0,275.9 L611.0,274.7 L611.1,276.6 L611.2,275.9 L611.3,278.2 L611.4,277.2 L611.5,279.5 L611.6,277.3 L611.7,278.3 L611.8,275.8 L611.9,276.5 L612.1,275.0 L612.2,275.6 L612.3,273.3 L612.4,274.1 L612.5,272.4 L612.8,274.4 L613.0,273.5 L613.2,275.4 L613.5,274.3 L613.8,276.0 L614.1,275.3 L614.4,277.3 L614.7,276.3 L615.0,278.3 L615.4,277.3 L615.8,279.1 L616.1,278.0 L616.5,279.8 L616.8,277.7 L617.1,278.7 L617.4,276.8 L617.7,277.9 L618.0,275.5 L618.5,277.2 L619.0,275.4 L619.5,276.6 L620.0,275.7 L620.5,277.3 L621.0,275.7 L621.4,276.9 L621.8,274.9 L622.1,275.8 L622.5,273.5 L623.0,275.6 L623.5,274.1 L624.0,275.6 L624.2,274.8 L624.5,276.9 L624.8,275.8 L625.0,277.8 L625.1,275.7 L625.2,276.8 L625.4,274.4 L625.5,275.4 L625.6,273.7 L625.8,274.2 L625.9,272.4 L626.0,273.3 L626.5,271.3 L627.0,272.8 L627.5,271.0 L628.0,272.7 L628.5,271.3 L629.0,273.4 L629.3,272.2 L629.6,274.1 L629.9,273.1 L630.2,275.4 L630.5,274.2 L630.8,276.5 L631.1,275.4 L631.4,277.0 L631.7,276.2 L632.0,278.4 L632.5,277.4 L633.0,279.4 L633.2,277.0 L633.5,278.1 L633.8,276.2 L634.0,277.3 L634.5,275.3 L635.0,276.1 L635.2,274.3 L635.4,275.2 L635.6,272.8 L635.8,273.8 L636.0,272.0 L636.1,272.8 L636.2,270.4 L636.2,271.3 L636.3,269.3 L636.4,270.4 L636.5,268.0 L636.6,269.0 L636.6,267.0 L636.7,267.9 L636.8,265.9 L637.4,267.1 L638.0,266.0 L638.3,267.8 L638.7,266.9 L639.0,268.8 L639.2,266.8 L639.5,267.7 L639.8,266.0 L640.0,266.5 L640.4,265.5 L640.8,267.7 L641.2,267.0 L641.6,268.8 L642.1,267.6 L642.5,269.5 L643.0,268.5 L643.5,270.1 L643.8,268.1 L644.0,268.7 L644.2,267.2 L644.5,268.0 L645.0,265.9 L645.5,267.4 L646.0,265.7 L646.5,266.9 L647.0,265.3 L647.5,266.7 L647.9,264.7 L648.2,266.1 L648.6,264.0 L649.0,265.5 L649.5,264.2 L650.0,265.6 L650.5,264.9 L651.0,265.9 L651.5,264.7 L652.0,265.5 L652.4,264.6 L652.8,266.7 L653.1,265.4 L653.5,267.5 L653.9,265.2 L654.2,266.2 L654.6,264.6 L655.0,265.7 L655.5,264.3 L656.0,265.6 L656.5,263.9 L657.0,265.4 L657.5,264.0 L658.0,266.0 L658.5,264.0 L659.0,265.3 L659.5,263.8 L660.0,264.9 L660.5,263.2 L661.0,265.0 L661.4,262.9 L661.8,263.5 L662.1,261.9 L662.5,262.6 L662.9,260.7 L663.2,262.2 L663.6,260.0 L664.0,261.0 L664.4,260.0 L664.8,262.1 L665.1,260.8 L665.5,263.0 L666.0,261.7 L666.5,262.9 L667.0,261.6 L667.3,264.0 L667.7,262.7 L668.0,264.6 L668.1,263.9 L668.2,266.0 L668.3,265.5 L668.4,267.0 L668.5,266.7 L668.6,268.1 L668.7,268.0 L668.8,269.2 L668.9,269.4 L668.9,270.4 L669.0,270.5 L669.0,271.5 L669.1,271.7 L669.1,272.7 L669.2,272.9 L669.3,274.0 L669.3,274.1 L669.4,275.1 L669.4,275.1 L669.5,276.3 L669.6,276.5 L669.8,277.5 L669.9,277.7 L670.0,278.8 L670.1,278.8 L670.2,280.0 L670.4,280.1 L670.5,281.2 L670.8,280.2 L671.0,280.3 L671.2,279.2 L671.5,279.2 L671.5,278.2 L671.6,278.0 L671.6,276.9 L671.7,276.9 L671.7,275.8 L671.8,275.8 L671.8,274.6 L671.9,274.5 L671.9,273.4 L672.0,273.2 L672.0,272.0 L672.1,272.1 L672.1,271.0 L672.2,270.9 L672.2,269.7 L672.9,270.4 L673.5,269.0 L673.7,271.1 L673.8,270.2 L674.0,272.3 L674.2,270.9 L674.3,273.0 L674.5,272.2 L674.9,273.2 L675.2,271.3 L675.6,272.1 L676.0,270.3 L676.2,271.6 L676.5,268.9 L676.8,270.6 L677.0,268.4 L677.2,269.2 L677.5,267.0 L677.9,268.2 L678.2,266.3 L678.6,267.6 L679.0,265.4 L679.5,266.5 L680.0,264.5 L680.2,266.7 L680.5,265.9 L680.8,267.5 L681.0,266.5 L681.2,268.8 L681.5,267.9 L681.8,269.8 L682.0,268.4 L682.2,270.6 L682.5,269.6 L683.0,271.4 L683.5,270.5 L684.0,272.5 L684.4,270.9 L684.8,272.9 L685.1,272.1 L685.5,273.6 L686.0,272.3 L686.5,274.2 L687.0,272.8 L687.5,274.3 L688.0,272.9 L688.5,275.0 L689.0,273.1 L689.5,275.2 L690.0,273.8 L690.5,274.7 L691.0,272.8 L691.5,274.3 L692.2,272.5 L693.0,274.1 L693.4,272.1 L693.8,273.5 L694.1,271.3 L694.5,273.1 L694.8,270.6 L695.2,271.5 L695.5,269.4 L695.8,270.8 L696.0,268.4 L696.2,269.7 L696.5,267.8 L697.0,269.2 L697.5,267.1 L698.0,268.1 L698.5,266.4 L699.0,267.8 L699.5,266.0 L699.9,267.0 L700.2,264.9 L700.6,266.3 L701.0,264.4 L701.5,266.2 L702.0,264.3 L702.5,266.6 L702.7,264.1 L702.9,265.3 L703.1,262.9 L703.3,264.1 L703.5,261.9 L703.8,263.1 L704.2,260.3 L704.5,261.9 L704.8,259.5 L705.0,260.6 L705.2,258.2 L705.5,259.1 L705.6,256.7 L705.7,258.0 L705.7,256.0 L705.8,256.7 L705.9,254.7 L706.0,255.9 L706.0,253.7 L706.1,254.2 L706.2,252.0 L706.5,253.2 L706.9,251.4 L707.2,252.4 L707.5,250.1 L708.0,252.4 L708.5,251.0 L708.6,252.0 L708.8,249.7 L708.9,251.3 L709.1,249.1 L709.2,249.8 L709.4,247.7 L709.5,248.9 L709.6,246.7 L709.7,247.5 L709.9,245.4 L710.0,246.3 L710.1,244.1 L710.2,245.6 L710.4,243.2 L710.5,244.2 L710.7,241.6 L710.8,242.8 L711.0,240.4 L711.3,242.2 L711.6,239.7 L711.9,240.8 L712.2,238.4 L712.8,240.8 L713.4,239.3 L714.0,241.7 L714.4,239.8 L714.8,242.1 L715.1,240.9 L715.5,242.8 L716.0,241.5 L716.5,243.9 L717.0,241.9 L717.5,244.6 L718.0,242.5 L718.5,245.2 L718.9,243.8 L719.2,245.7 L719.6,243.9 L720.0,246.7 L720.4,245.1 L720.8,247.1 L721.2,245.5 L721.4,246.8 L721.6,244.6 L721.9,245.6 L722.1,243.8 L722.3,244.8 L722.4,242.9 L722.4,243.3 L722.5,241.2 L722.5,242.4 L722.6,240.0 L722.6,241.1 L722.7,238.8 L722.7,240.0 L722.8,237.6 L722.8,238.3 L722.9,236.5 L722.9,237.2 L723.0,235.3 L723.1,235.9 L723.2,234.1 L723.2,235.0 L723.3,232.8 L723.4,233.5 L723.5,231.7 L723.5,232.3 L723.6,230.2 L723.7,231.0 L724.1,229.4 L724.4,230.2 L724.8,228.5 L725.0,229.1 L725.2,226.9 L725.4,227.9 L725.6,226.1 L725.8,226.6 L725.9,224.8 L726.0,225.4 L726.1,223.8 L726.2,224.2 L726.4,222.6 L726.5,223.2 L726.6,221.5 L726.7,222.0 L726.9,220.5 L727.1,221.0 L727.3,218.9 L727.5,219.8 L727.8,217.8 L728.1,218.9 L728.5,217.2 L728.9,218.1 L729.2,216.4 L729.5,217.1 L729.8,215.1 L730.0,215.8 L730.2,214.0 L730.5,214.5 L730.5,212.9 L730.6,213.5 L730.6,211.6 L730.7,212.3 L730.7,210.6 L730.8,211.0 L730.8,209.0 L730.9,209.7 L730.9,207.9 L731.0,208.6 L731.0,206.9 L731.1,207.7 L731.1,205.6 L731.2,206.4 L731.2,204.5 L731.5,204.9 L731.7,203.0 L732.0,203.9 L732.2,202.3 L732.5,203.8 L732.8,203.1 L733.0,205.0 L733.2,204.3 L733.5,205.8 L733.8,204.9 L734.0,206.1 L734.4,204.4 L734.6,205.0 L735.0,203.4 L735.2,204.2 L735.3,202.2 L735.4,203.1 L735.5,200.9 L735.5,201.8 L735.6,199.7 L735.7,200.7 L735.8,198.5 L735.9,199.3 L735.9,197.3 L736.0,198.3 L736.0,196.0 L736.1,196.8 L736.1,194.9 L736.2,195.5 L736.2,193.7 L736.2,194.6 L736.3,192.6 L736.3,193.6 L736.4,191.4 L736.4,192.1 L736.4,190.1 L736.5,191.1 L736.5,189.0 L736.6,189.7 L736.6,187.9 L736.6,188.5 L736.7,186.6 L736.7,187.3 L736.8,185.5 L736.8,186.2 L736.8,184.4 L736.9,184.9 L736.9,183.0 L736.9,184.0 L737.0,182.0 L737.0,182.7 L737.1,180.9 L737.1,181.4 L737.1,179.8 L737.2,180.4 L737.2,178.4 L737.2,178.9 L737.7,177.1 L738.1,178.1 L738.5,176.2 L738.6,178.4 L738.7,177.3 L738.7,179.3 L738.8,178.7 L738.9,180.8 L739.0,180.1 L739.1,181.6 L739.2,181.0 L739.2,183.0 L739.3,182.0 L739.4,184.3 L739.8,182.4 L740.2,183.6 L740.6,181.6 L740.7,182.3 L740.7,180.4 L740.8,181.1 L740.9,179.4 L740.9,180.1 L741.0,178.2 L741.1,179.1 L741.2,176.9 L741.2,177.7 L741.3,176.0 L741.4,176.5 L741.4,174.7 L741.5,175.4 L741.5,173.4 L741.6,174.4 L741.6,172.0 L741.7,172.9 L741.8,171.0 L741.8,171.8 L741.9,169.5 L741.9,170.4 L742.0,168.5 L742.0,169.4 L742.0,167.5 L742.1,167.9 L742.1,165.8 L742.2,166.9 L742.2,164.8 L742.3,165.4 L742.4,163.5 L742.5,164.6 L742.6,162.4 L742.7,163.6 L742.8,161.3 L742.9,162.2 L743.0,160.5 L743.0,159.5 L743.5,170.8 L743.8,158.2 L744.1,159.6 L744.2,172.2 L744.6,171.2 L745.1,158.8 L745.2,159.0 L745.6,170.1 L745.7,168.5 L746.3,158.8 L746.4,157.4 L746.8,167.3 L746.9,167.8 L747.4,159.8 L747.8,158.2 L747.9,166.7 L748.2,167.8 L748.5,158.1 L749.0,167.9 L749.1,157.8 L749.5,169.2 L749.6,159.2 L750.1,168.3 L750.4,156.9 L750.7,157.8 L750.8,168.8 L751.2,168.0 L751.4,154.8 L751.8,155.0 L752.1,166.6 L752.3,165.1 L752.6,153.4 L752.9,155.3 L753.4,169.6 L753.4,167.8 L753.7,154.8 L754.0,157.2 L754.3,158.8 L754.5,169.7 L754.8,170.9 L755.1,162.1 L755.2,161.3 L755.6,170.9 L756.2,164.3 L756.5,163.9 L756.5,171.8 L756.7,171.2 L757.3,165.9 L757.8,164.8 L757.8,171.9 L758.2,173.1 L758.4,165.3 L758.9,171.8 L759.1,164.4 L759.5,163.7 L759.6,170.9 L760.0,162.2 L760.0,169.3 L760.6,160.1 L760.9,158.8 L760.9,169.6 L761.1,169.4 L761.7,156.7 L761.8,156.1 L762.2,170.1 L762.2,168.8 L762.8,157.9 L762.8,155.7 L763.3,170.3 L763.5,172.2 L763.7,156.9 L763.9,161.0 L764.2,162.2 L764.4,173.1 L764.8,173.6 L765.0,163.9 L765.2,164.4 L765.5,172.5 L766.1,165.5 L766.6,165.2 L766.6,174.0 L766.6,172.8 L767.2,166.1 L767.7,172.9 L768.3,166.5" fill="none" stroke="#ff0000" stroke-width="2.78" stroke-linejoin="round" stroke-linecap="butt"/>
<line x1="96.5" x2="768.5" y1="105.1" y2="105.1" stroke="#808080" stroke-width="4.17"/>
</g>
<path d="M124.5,355.5 V102.5 M152.5,355.5 V102.5 M180.5,355.5 V102.5 M208.5,355.5 V102.5 M236.5,355.5 V102.5 M264.5,355.5 V102.5 M292.5,355.5 V102.5 M320.5,355.5 V102.5 M348.5,355.5 V102.5 M376.5,355.5 V102.5 M404.5,355.5 V102.5 M432.5,355.5 V102.5 M460.5,355.5 V102.5 M488.5,355.5 V102.5 M516.5,355.5 V102.5 M544.5,355.5 V102.5 M572.5,355.5 V102.5 M600.5,355.5 V102.5 M628.5,355.5 V102.5 M656.5,355.5 V102.5 M684.5,355.5 V102.5 M712.5,355.5 V102.5 M740.5,355.5 V102.5 M96.5,321.5 H768.5 M96.5,288.5 H768.5 M96.5,255.5 H768.5 M96.5,222.5 H768.5 M96.5,189.5 H768.5 M96.5,155.5 H768.5 M96.5,122.5 H768.5" fill="none" stroke="#000" stroke-width="0.75" stroke-dasharray="1.39 4.17"/>
<path d="M124.5,355.5 v-5.56 M124.5,102.5 v5.56 M152.5,355.5 v-5.56 M152.5,102.5 v5.56 M180.5,355.5 v-5.56 M180.5,102.5 v5.56 M208.5,355.5 v-5.56 M208.5,102.5 v5.56 M236.5,355.5 v-5.56 M236.5,102.5 v5.56 M264.5,355.5 v-5.56 M264.5,102.5 v5.56 M292.5,355.5 v-5.56 M292.5,102.5 v5.56 M320.5,355.5 v-5.56 M320.5,102.5 v5.56 M348.5,355.5 v-5.56 M348.5,102.5 v5.56 M376.5,355.5 v-5.56 M376.5,102.5 v5.56 M404.5,355.5 v-5.56 M404.5,102.5 v5.56 M432.5,355.5 v-5.56 M432.5,102.5 v5.56 M460.5,355.5 v-5.56 M460.5,102.5 v5.56 M488.5,355.5 v-5.56 M488.5,102.5 v5.56 M516.5,355.5 v-5.56 M516.5,102.5 v5.56 M544.5,355.5 v-5.56 M544.5,102.5 v5.56 M572.5,355.5 v-5.56 M572.5,102.5 v5.56 M600.5,355.5 v-5.56 M600.5,102.5 v5.56 M628.5,355.5 v-5.56 M628.5,102.5 v5.56 M656.5,355.5 v-5.56 M656.5,102.5 v5.56 M684.5,355.5 v-5.56 M684.5,102.5 v5.56 M712.5,355.5 v-5.56 M712.5,102.5 v5.56 M740.5,355.5 v-5.56 M740.5,102.5 v5.56 M96.5,321.5 h5.56 M768.5,321.5 h-5.56 M96.5,288.5 h5.56 M768.5,288.5 h-5.56 M96.5,255.5 h5.56 M768.5,255.5 h-5.56 M96.5,222.5 h5.56 M768.5,222.5 h-5.56 M96.5,189.5 h5.56 M768.5,189.5 h-5.56 M96.5,155.5 h5.56 M768.5,155.5 h-5.56 M96.5,122.5 h5.56 M768.5,122.5 h-5.56" fill="none" stroke="#000" stroke-width="0.75"/>
<rect x="96.5" y="102.5" width="672" height="253" fill="none" stroke="#000" stroke-width="1.39"/>
<rect x="294.5" y="55.5" width="276" height="35" fill="#fff" stroke="#000" stroke-width="1"/>
<line x1="301" x2="343" y1="71.4" y2="71.4" stroke="#ff0000" stroke-width="2.78"/>
<text y="41.45" font-size="22.8" fill="#000"><tspan x="207.96" textLength="71.64" lengthAdjust="spacingAndGlyphs">Latest</tspan> <tspan x="287.2" textLength="60.94" lengthAdjust="spacingAndGlyphs">time:</tspan> <tspan x="356.33" textLength="133.74" lengthAdjust="spacingAndGlyphs">2024-03-22</tspan> <tspan x="499.09" textLength="102.12" lengthAdjust="spacingAndGlyphs">00:00:00</tspan> <tspan x="611.22" textLength="45.97" lengthAdjust="spacingAndGlyphs">UTC</tspan></text>
<text y="77.7" font-size="20.1" fill="#000"><tspan x="356.4" textLength="80.3" lengthAdjust="spacingAndGlyphs">Visibility</tspan> <tspan x="444.69" textLength="74.05" lengthAdjust="spacingAndGlyphs">(56.353</tspan> <tspan x="526.73" textLength="36.86" lengthAdjust="spacingAndGlyphs">km)</tspan></text>
<text x="84.4" y="374.5" font-size="20.1" text-anchor="start" textLength="22.7" lengthAdjust="spacingAndGlyphs" fill="#000">00</text>
<text x="112.4" y="374.5" font-size="20.1" text-anchor="start" textLength="22.7" lengthAdjust="spacingAndGlyphs" fill="#000">01</text>
<text x="140.4" y="374.5" font-size="20.1" text-anchor="start" textLength="22.7" lengthAdjust="spacingAndGlyphs" fill="#000">02</text>
<text x="168.4" y="374.5" font-size="20.1" text-anchor="start" textLength="22.7" lengthAdjust="spacingAndGlyphs" fill="#000">03</text>
<text x="196.4" y="374.5" font-size="20.1" text-anchor="start" textLength="22.7" lengthAdjust="spacingAndGlyphs" fill="#000">04</text>
<text x="224.4" y="374.5" font-size="20.1" text-anchor="start" textLength="22.7" lengthAdjust="spacingAndGlyphs" fill="#000">05</text>
<text x="252.4" y="374.5" font-size="20.1" text-anchor="start" textLength="22.7" lengthAdjust="spacingAndGlyphs" fill="#000">06</text>
<text x="280.4" y="374.5" font-size="20.1" text-anchor="start" textLength="22.7" lengthAdjust="spacingAndGlyphs" fill="#000">07</text>
<text x="308.4" y="374.5" font-size="20.1" text-anchor="start" textLength="22.7" lengthAdjust="spacingAndGlyphs" fill="#000">08</text>
<text x="336.4" y="374.5" font-size="20.1" text-anchor="start" textLength="22.7" lengthAdjust="spacingAndGlyphs" fill="#000">09</text>
<text x="364.4" y="374.5" font-size="20.1" text-anchor="start" textLength="22.7" lengthAdjust="spacingAndGlyphs" fill="#000">10</text>
<text x="392.4" y="374.5" font-size="20.1" text-anchor="start" textLength="22.7" lengthAdjust="spacingAndGlyphs" fill="#000">11</text>
<text x="420.4" y="374.5" font-size="20.1" text-anchor="start" textLength="22.7" lengthAdjust="spacingAndGlyphs" fill="#000">12</text>
<text x="448.4" y="374.5" font-size="20.1" text-anchor="start" textLength="22.7" lengthAdjust="spacingAndGlyphs" fill="#000">13</text>
<text x="476.4" y="374.5" font-size="20.1" text-anchor="start" textLength="22.7" lengthAdjust="spacingAndGlyphs" fill="#000">14</text>
<text x="504.4" y="374.5" font-size="20.1" text-anchor="start" textLength="22.7" lengthAdjust="spacingAndGlyphs" fill="#000">15</text>
<text x="532.4" y="374.5" font-size="20.1" text-anchor="start" textLength="22.7" lengthAdjust="spacingAndGlyphs" fill="#000">16</text>
<text x="560.4" y="374.5" font-size="20.1" text-anchor="start" textLength="22.7" lengthAdjust="spacingAndGlyphs" fill="#000">17</text>
<text x="588.4" y="374.5" font-size="20.1" text-anchor="start" textLength="22.7" lengthAdjust="spacingAndGlyphs" fill="#000">18</text>
<text x="616.4" y="374.5" font-size="20.1" text-anchor="start" textLength="22.7" lengthAdjust="spacingAndGlyphs" fill="#000">19</text>
<text x="644.4" y="374.5" font-size="20.1" text-anchor="start" textLength="22.7" lengthAdjust="spacingAndGlyphs" fill="#000">20</text>
<text x="672.4" y="374.5" font-size="20.1" text-anchor="start" textLength="22.7" lengthAdjust="spacingAndGlyphs" fill="#000">21</text>
<text x="700.4" y="374.5" font-size="20.1" text-anchor="start" textLength="22.7" lengthAdjust="spacingAndGlyphs" fill="#000">22</text>
<text x="728.4" y="374.5" font-size="20.1" text-anchor="start" textLength="22.7" lengthAdjust="spacingAndGlyphs" fill="#000">23</text>
<text x="756.4" y="374.5" font-size="20.1" text-anchor="start" textLength="22.7" lengthAdjust="spacingAndGlyphs" fill="#000">00</text>
<text x="91.7" y="359.3" font-size="20.1" text-anchor="end" textLength="11.4" lengthAdjust="spacingAndGlyphs" fill="#000">0</text>
<text x="91.3" y="325.8" font-size="20.1" text-anchor="end" textLength="22.7" lengthAdjust="spacingAndGlyphs" fill="#000">10</text>
<text x="91.3" y="292.8" font-size="20.1" text-anchor="end" textLength="22.7" lengthAdjust="spacingAndGlyphs" fill="#000">20</text>
<text x="91.3" y="259.8" font-size="20.1" text-anchor="end" textLength="22.7" lengthAdjust="spacingAndGlyphs" fill="#000">30</text>
<text x="91.3" y="226.8" font-size="20.1" text-anchor="end" textLength="22.7" lengthAdjust="spacingAndGlyphs" fill="#000">40</text>
<text x="91.3" y="193.8" font-size="20.1" text-anchor="end" textLength="22.7" lengthAdjust="spacingAndGlyphs" fill="#000">50</text>
<text x="91.3" y="159.8" font-size="20.1" text-anchor="end" textLength="22.7" lengthAdjust="spacingAndGlyphs" fill="#000">60</text>
<text x="91.3" y="126.8" font-size="20.1" text-anchor="end" textLength="22.7" lengthAdjust="spacingAndGlyphs" fill="#000">70</text>
<g transform="translate(34.4,400) rotate(-90)">
<text y="0" font-size="20.1" fill="#000"><tspan x="105.6" textLength="80.4" lengthAdjust="spacingAndGlyphs">Visibility</tspan> <tspan x="191.81" textLength="47.58" lengthAdjust="spacingAndGlyphs">(km)</tspan></text>
</g>
<g transform="translate(56,400) rotate(-90)">
<text y="0" font-size="20.1" fill="#000"><tspan x="61.89" textLength="55.26" lengthAdjust="spacingAndGlyphs">(max.</tspan> <tspan x="126.45" textLength="30.05" lengthAdjust="spacingAndGlyphs">rep.</tspan> <tspan x="170" textLength="40.84" lengthAdjust="spacingAndGlyphs">vis.:</tspan> <tspan x="218.15" textLength="18.91" lengthAdjust="spacingAndGlyphs">75</tspan> <tspan x="244.88" textLength="38.05" lengthAdjust="spacingAndGlyphs">km)</tspan></text>
</g>
</svg>
</body>
</html>
